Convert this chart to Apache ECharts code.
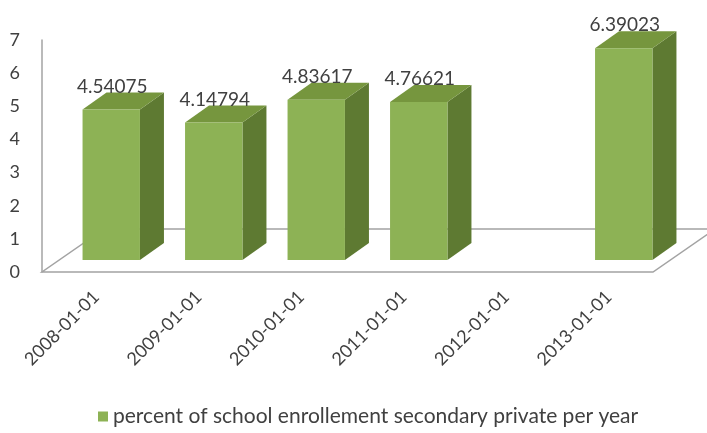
<!DOCTYPE html>
<html><head><meta charset="utf-8">
<script src="https://cdn.jsdelivr.net/npm/echarts@6/dist/echarts.min.js"></script>
<style>html,body{margin:0;padding:0;background:#fff}#c{width:707px;height:433px}</style>
</head><body><div id="c"></div>
<script>
const categories = ['2008-01-01','2009-01-01','2010-01-01','2011-01-01','2012-01-01','2013-01-01'];
const values = [4.54075, 4.14794, 4.83617, 4.76621, null, 6.39023];
const valueLabels = ['4.54075','4.14794','4.83617','4.76621','','6.39023'];
const yTicks = [0,1,2,3,4,5,6,7];
const seriesName = 'percent of school enrollement secondary private per year';

const FONT = 'Lato, "Open Sans", sans-serif';
const frontColor = '#8DB255';
const topColor = '#76963E';
const sideColor = '#5E7A32';
const lineColor = '#A3A3A3';

function renderBar(params, api) {
  const v = api.value(1);
  if (v == null || isNaN(v)) return;
  const i = api.value(0);
  const base = api.coord([i, 0]);
  const top = api.coord([i, v]);
  const band = api.size([1, 0])[0];
  const w = band * 0.56;
  const sx = 15, sy = -12;
  const dx = 24, dy = -17;
  const x0 = base[0] + sx - w / 2, x1 = x0 + w;
  const yb = base[1] + sy, yt = top[1] + sy;
  return {
    type: 'group',
    children: [
      { type: 'polygon', shape: { points: [[x1, yb], [x1 + dx, yb + dy], [x1 + dx, yt + dy], [x1, yt]] }, style: { fill: sideColor } },
      { type: 'polygon', shape: { points: [[x0, yt], [x1, yt], [x1 + dx, yt + dy], [x0 + dx, yt + dy]] }, style: { fill: topColor } },
      { type: 'rect', shape: { x: x0, y: yt, width: w, height: yb - yt }, style: { fill: frontColor } },
      { type: 'text', style: { text: valueLabels[i], x: (x0 + x1) / 2 + 1, y: yt - 23, align: 'center', verticalAlign: 'middle', font: '19px ' + FONT, fill: '#404040' } }
    ]
  };
}

function renderFloor(params, api) {
  const cs = params.coordSys;
  const yF = cs.y + cs.height;
  const xL = cs.x - 3;
  const xR = cs.x + cs.width - 7;
  const ddx = 62, ddy = -43;
  return {
    type: 'polyline',
    shape: { points: [[xR + ddx, yF + ddy], [xR, yF], [xL, yF], [xL + ddx, yF + ddy], [xR + ddx + 20, yF + ddy]] },
    style: { stroke: lineColor, lineWidth: 1.5, fill: null }
  };
}

const chart = echarts.init(document.getElementById('c'), null, { renderer: 'canvas' });
chart.setOption({
  animation: false,
  backgroundColor: '#fff',
  grid: { left: 45, right: 47, top: 40, bottom: 161, containLabel: false },
  legend: {
    data: [seriesName],
    left: 93, top: 401,
    icon: 'rect', itemWidth: 10, itemHeight: 10, itemGap: 7,
    textStyle: { fontFamily: FONT, fontSize: 21, color: '#404040' }
  },
  xAxis: {
    type: 'category',
    data: categories,
    axisLine: { show: false },
    axisTick: { show: false },
    axisLabel: { rotate: 45, margin: 22, fontFamily: FONT, fontSize: 18, color: '#404040', interval: 0 }
  },
  yAxis: {
    type: 'value',
    min: yTicks[0], max: yTicks[yTicks.length - 1], interval: 1,
    offset: 3,
    axisLine: { show: true, lineStyle: { color: lineColor, width: 1.5 } },
    axisTick: { show: false },
    splitLine: { show: false },
    axisLabel: { margin: 22, fontFamily: FONT, fontSize: 18, color: '#404040' }
  },
  series: [
    { type: 'custom', name: 'floor', renderItem: renderFloor, data: [[0, 0]], z: 1, silent: true },
    { type: 'custom', name: seriesName, renderItem: renderBar, itemStyle: { color: frontColor },
      data: values.map((v, i) => [i, v == null ? '-' : v]), z: 2, encode: { x: 0, y: 1 } }
  ]
});
</script>
</body></html>
